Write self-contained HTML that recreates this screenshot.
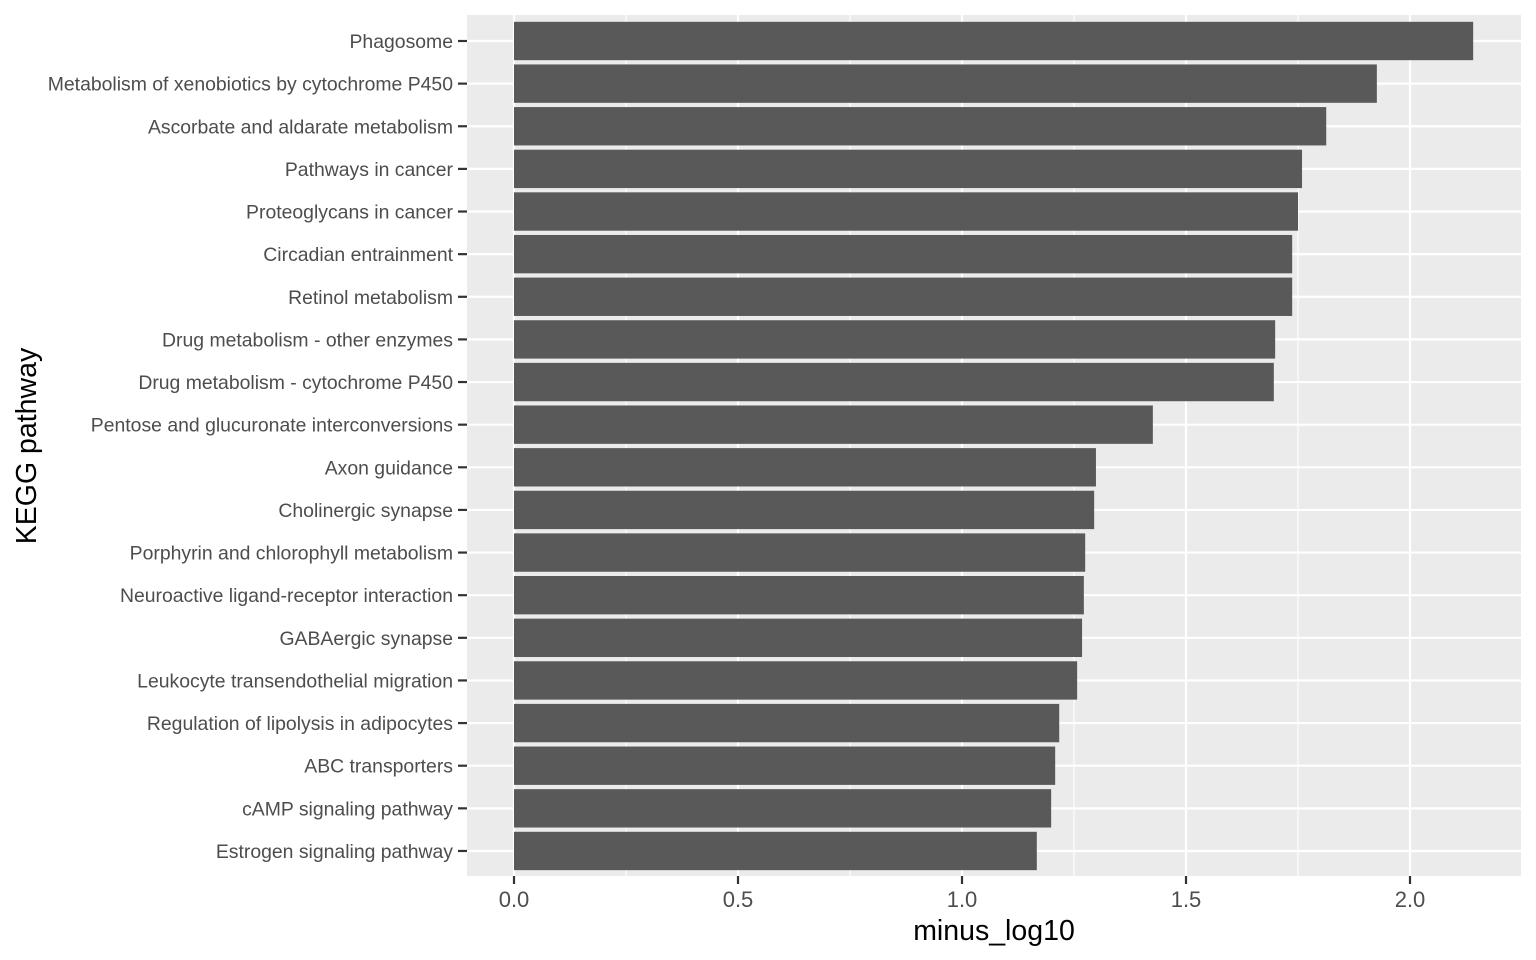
<!DOCTYPE html>
<html><head><meta charset="utf-8"><style>
html,body{margin:0;padding:0;background:#fff;}
svg{display:block;font-family:"Liberation Sans",sans-serif;}
</style></head><body>
<svg id="chart" width="1536" height="960"></svg>
<script>
const categories = ["Phagosome","Metabolism of xenobiotics by cytochrome P450","Ascorbate and aldarate metabolism","Pathways in cancer","Proteoglycans in cancer","Circadian entrainment","Retinol metabolism","Drug metabolism - other enzymes","Drug metabolism - cytochrome P450","Pentose and glucuronate interconversions","Axon guidance","Cholinergic synapse","Porphyrin and chlorophyll metabolism","Neuroactive ligand-receptor interaction","GABAergic synapse","Leukocyte transendothelial migration","Regulation of lipolysis in adipocytes","ABC transporters","cAMP signaling pathway","Estrogen signaling pathway"];
const values = [2.141,1.926,1.813,1.759,1.750,1.737,1.737,1.699,1.696,1.426,1.299,1.295,1.275,1.272,1.268,1.257,1.217,1.208,1.199,1.167];
const xTicks = [0,0.5,1,1.5,2];
const xTickLabels = ["0.0","0.5","1.0","1.5","2.0"];

const NS="http://www.w3.org/2000/svg";
const svg=document.getElementById('chart');
const P={l:467,r:1521,t:15,b:876};
const x=v=>514+v*448;
const step=42.63;
const y=i=>41+i*step;
function mk(tag,attrs,parent){const e=document.createElementNS(NS,tag);for(const k in attrs)e.setAttribute(k,attrs[k]);(parent||svg).appendChild(e);return e;}

const panel=mk('rect',{x:P.l,y:P.t,width:P.r-P.l,height:P.b-P.t,fill:'#ebebeb'});


for(let k=0;k<xTicks.length;k++){const v=xTicks[k]+0.25;const px=x(v);if(px<P.r){const g=mk('line',{x1:px,x2:px,y1:P.t,y2:P.b,stroke:'#fff','stroke-width':1.1});}}
xTicks.forEach(v=>{const g=mk('line',{x1:x(v),x2:x(v),y1:P.t,y2:P.b,stroke:'#fff','stroke-width':2.2});});
categories.forEach((c,i)=>{const g=mk('line',{x1:P.l,x2:P.r,y1:y(i),y2:y(i),stroke:'#fff','stroke-width':2.2});});
const bh=step*0.9;
categories.forEach((c,i)=>{
  const r=mk('rect',{x:x(0),y:y(i)-bh/2,width:x(values[i])-x(0),height:bh,fill:'#595959'});
  
  
  const t=mk('text',{x:453,y:y(i)+7,'text-anchor':'end','font-size':19.4,fill:'#4d4d4d'});
  t.textContent=c;
  
  
  const tk=mk('line',{x1:458,x2:467,y1:y(i),y2:y(i),stroke:'#333','stroke-width':2.2});
  
  
});
xTicks.forEach((v,k)=>{
  const tk=mk('line',{x1:x(v),x2:x(v),y1:P.b,y2:P.b+8,stroke:'#333','stroke-width':2.2});
  
  
  const t=mk('text',{x:x(v),y:907,'text-anchor':'middle','font-size':22,fill:'#4d4d4d'});
  t.textContent=xTickLabels[k];
  
  
});
const xt=mk('text',{x:994,y:940,'text-anchor':'middle','font-size':28.5,fill:'#000'});
xt.textContent='minus_log10';


const yt=mk('text',{x:36,y:446,'text-anchor':'middle','font-size':28.5,fill:'#000',transform:'rotate(-90 36 446)'});
yt.textContent='KEGG pathway';


</script>
</body></html>
